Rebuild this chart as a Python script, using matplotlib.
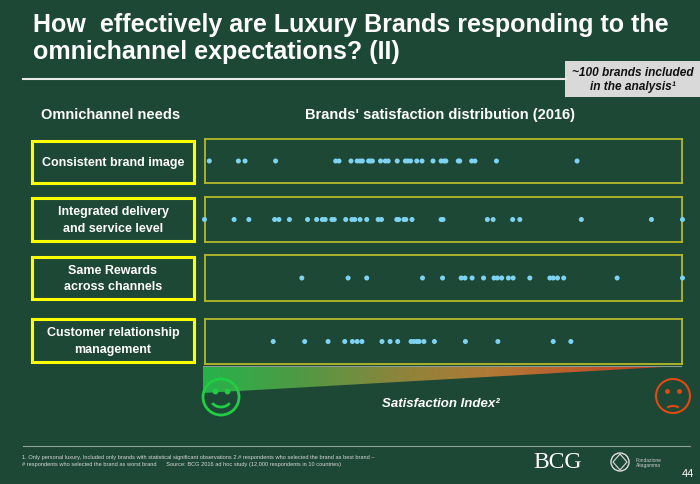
import numpy as np
import matplotlib
matplotlib.use('Agg')
import matplotlib.pyplot as plt
from matplotlib.patches import Rectangle, Polygon, Circle, Arc
from matplotlib.colors import LinearSegmentedColormap

# needs shown on the left, top to bottom
needs = ['Consistent brand image',
         'Integrated delivery\nand service level',
         'Same Rewards\nacross channels',
         'Customer relationship\nmanagement']

# satisfaction index per brand (0 = left edge, 100 = right edge)
brand_image = [0.9, 7.0, 8.4, 14.8, 27.4, 28.1, 30.6, 31.9, 32.5, 33.0, 34.3, 34.7, 35.1,
               36.8, 37.8, 38.4, 40.3, 42.0, 42.5, 43.1, 44.4, 45.5, 47.8, 49.5, 50.1,
               50.5, 53.1, 53.4, 55.9, 56.6, 61.1, 78.0]
delivery = [-0.1, 6.1, 9.2, 14.6, 15.5, 17.7, 21.5, 23.4, 24.6, 25.2, 26.6, 27.1, 29.5,
            30.8, 31.4, 32.5, 33.9, 36.3, 37.0, 40.2, 40.6, 41.7, 42.1, 43.4, 49.5, 49.9,
            59.2, 60.4, 64.5, 66.0, 78.9, 93.6, 100.1]
rewards = [20.3, 30.0, 33.9, 45.6, 49.8, 53.7, 54.5, 56.0, 58.4, 60.6, 61.3, 62.2, 63.6,
           64.6, 68.1, 72.3, 73.0, 73.9, 75.2, 86.4, 100.1]
crm = [14.3, 20.9, 25.8, 29.3, 30.9, 31.9, 32.9, 37.1, 38.8, 40.4, 43.2, 43.8, 44.4,
       44.9, 45.9, 48.1, 54.6, 61.4, 73.0, 76.7]
rows = [brand_image, delivery, rewards, crm]

BG = '#1d4836'
W, H = 700, 485
NARROW = ['Liberation Sans Narrow', 'Liberation Sans', 'DejaVu Sans']
ARIAL = ['Liberation Sans', 'DejaVu Sans']

fig = plt.figure(figsize=(7, 4.85), dpi=100, facecolor=BG)
ax = fig.add_axes([0, 0, 1, 1])
ax.set_xlim(0, W)
ax.set_ylim(H, 0)
ax.axis('off')
ax.set_facecolor(BG)

# title
ax.text(33, 32, 'How  effectively are Luxury Brands responding to the',
        color='white', fontsize=18, fontweight='bold', family=NARROW, va='baseline')
ax.text(33, 59, 'omnichannel expectations? (II)',
        color='white', fontsize=18, fontweight='bold', family=NARROW, va='baseline')
ax.plot([23, 566], [80, 80], color='#e8e8e8', lw=1.5)

# note box
ax.add_patch(Rectangle((565, 62), 135, 36, facecolor='#d9d9d9', edgecolor='none'))
ax.text(633, 80, '~100 brands included\nin the analysis\u00b9', color='#111111', fontsize=8.6,
        fontweight='bold', style='italic', family=NARROW, ha='center', va='center',
        linespacing=1.15)

# column headers
ax.text(111, 115, 'Omnichannel needs', color='white', fontsize=10.5, fontweight='bold',
        family=NARROW, ha='center', va='center')
ax.text(440, 115, "Brands' satisfaction distribution (2016)", color='white', fontsize=10.5,
        fontweight='bold', family=NARROW, ha='center', va='center')

left_boxes = [(142, 184), (199, 242), (258, 300), (320, 363)]
right_boxes = [(140, 184), (198, 243), (256, 302), (320, 365)]

for label, (y0, y1) in zip(needs, left_boxes):
    ax.add_patch(Rectangle((32, y0), 162, y1 - y0, facecolor='none',
                           edgecolor='#ffff00', lw=2.2))
    ax.text(113, (y0 + y1) / 2, label, color='white', fontsize=9, fontweight='bold',
            family=ARIAL, ha='center', va='center', linespacing=1.45)

# gradient wedge under the rows
grad = np.linspace(0, 1, 256).reshape(1, -1)
cmap = LinearSegmentedColormap.from_list(
    'sat', ['#26b24a', '#4f9a44', '#8a853c', '#b07a35', '#bd5a2c', '#c0301f'])
im = ax.imshow(grad, extent=(203, 681, 394, 367), cmap=cmap, aspect='auto', zorder=2)
wedge = Polygon([(203, 367), (681, 367), (203, 394)], closed=True,
                transform=ax.transData, facecolor='none', edgecolor='none')
ax.add_patch(wedge)
im.set_clip_path(wedge)
ax.plot([203, 681], [367, 367], color='#8a9a90', lw=0.8, zorder=3)

# smiley / sad faces (y axis runs downward)
ax.add_patch(Circle((221, 398), 18, facecolor='none', edgecolor='#22cc44', lw=2, zorder=4))
ax.plot([215, 227], [392, 392], ls='none', marker='o', ms=3.2, color='#22cc44', zorder=4)
ax.add_patch(Arc((221, 400), 20, 16, theta1=25, theta2=155, color='#22cc44', lw=2, zorder=4))
ax.add_patch(Circle((673, 397), 17, facecolor='none', edgecolor='#e04a10', lw=1.5, zorder=4))
ax.plot([667, 679], [392, 392], ls='none', marker='o', ms=2.5, color='#e04a10', zorder=4)
ax.add_patch(Arc((673, 412), 16, 10, theta1=210, theta2=330, color='#e04a10', lw=1.5,
                 zorder=4))

ax.text(441, 404, 'Satisfaction Index\u00b2', color='white', fontsize=9.5, fontweight='bold',
        style='italic', family=ARIAL, ha='center', va='center')

# footer
ax.plot([23, 690], [447, 447], color='#8fa399', lw=0.8)
ax.text(22, 461, '1. Only personal luxury, Included only brands with statistical significant '
        'observations 2.# respondents who selected the brand as best brand \u2013\n'
        '# respondents who selected the brand as worst brand      Source: BCG 2016 ad hoc '
        'study (12,000 respondents in 10 countries)',
        color='#d8d8d8', fontsize=4.1, family=NARROW, ha='left', va='center', linespacing=1.5)
ax.text(558, 463, 'BCG', color='white', fontsize=17, family=['Liberation Serif', 'DejaVu Serif'],
        ha='center', va='center')
ax.add_patch(Circle((620, 463), 9, facecolor='none', edgecolor='#dddddd', lw=1))
ax.add_patch(Polygon([(620, 455), (627, 463), (620, 471), (613, 463)], closed=True,
                     facecolor='none', edgecolor='#dddddd', lw=0.8))
ax.text(636, 463, 'Fondazione\nAltagamma', color='#cccccc', fontsize=3.5, family=ARIAL,
        ha='left', va='center')
ax.text(688, 474, '44', color='white', fontsize=8, family=NARROW, ha='center', va='center')

# one thin-framed strip per need with the brand dots
for vals, (y0, y1) in zip(rows, right_boxes):
    sax = fig.add_axes([205 / W, 1 - y1 / H, 477 / W, (y1 - y0) / H])
    sax.set_facecolor('none')
    sax.set_xlim(0, 100)
    sax.set_ylim(-1, 1)
    sax.set_xticks([])
    sax.set_yticks([])
    for s in sax.spines.values():
        s.set_color('#b5b82a')
        s.set_linewidth(1.3)
    sax.scatter(vals, np.zeros(len(vals)), s=13, color='#7fd3f2', edgecolors='none',
                clip_on=False, zorder=3)

fig.savefig('out.png', dpi=100, facecolor=BG)
